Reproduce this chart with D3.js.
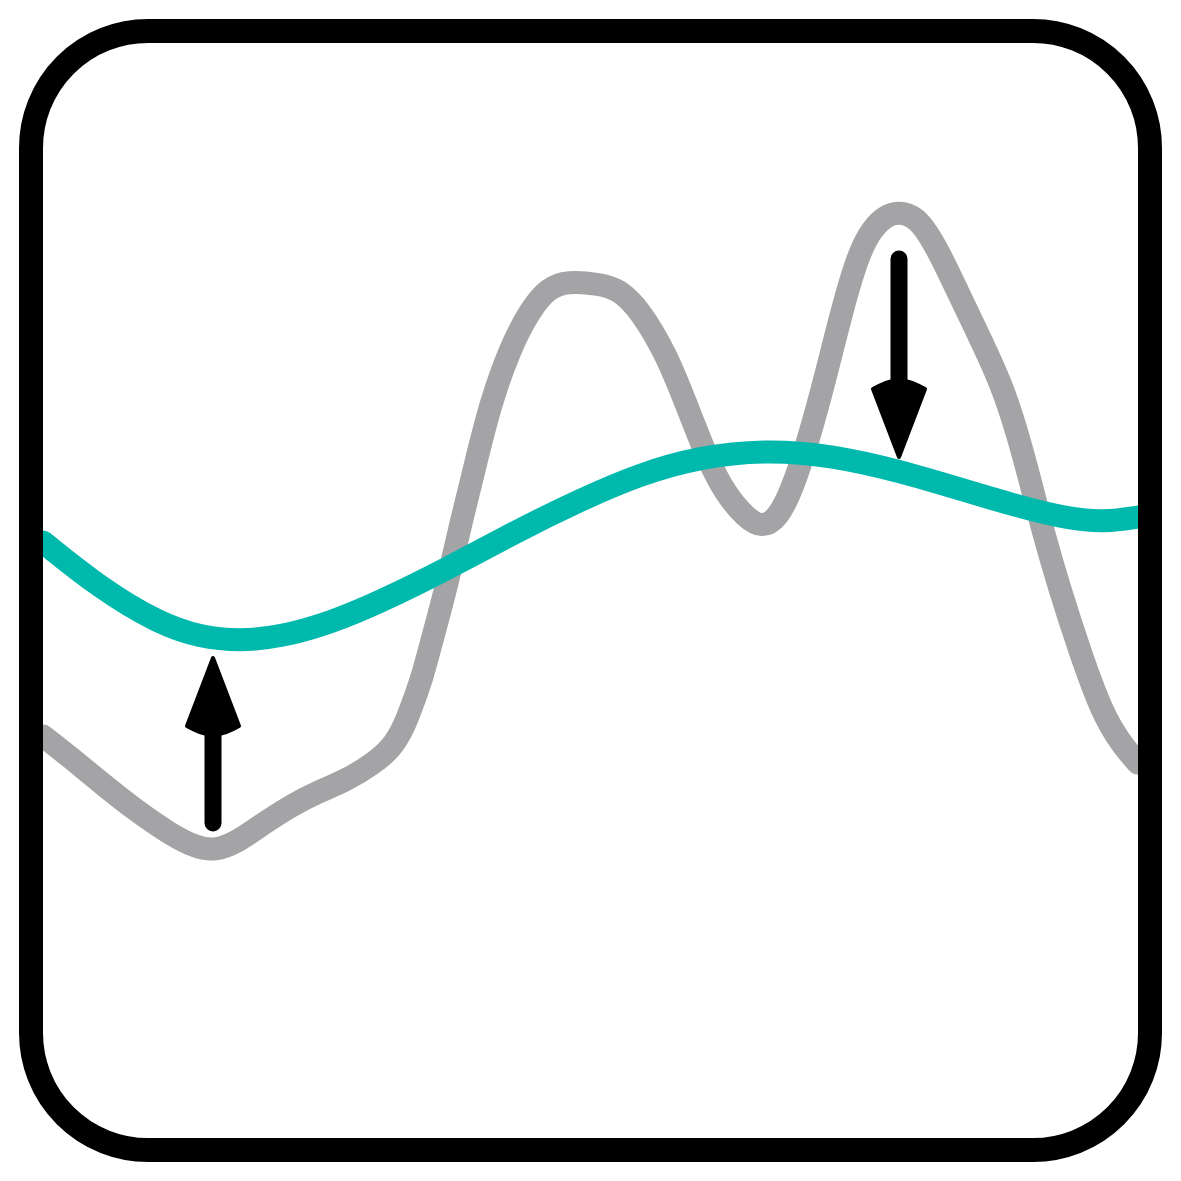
<!DOCTYPE html>
<html lang="en">
<head>
    <meta charset="UTF-8">
    <title>Level vs trend</title>
    <script src="https://d3js.org/d3.v7.min.js"></script>
    <style>
        html, body { margin: 0; padding: 0; background: #fff; }
        svg { display: block; }
        .actual { fill: none; stroke: #a4a4a6; stroke-width: 23px; stroke-linejoin: round; stroke-linecap: round; }
        .trend { fill: none; stroke: #00b9ad; stroke-width: 23px; stroke-linejoin: round; stroke-linecap: round; }
        .frame { fill: none; stroke: #000; stroke-width: 24px; }
        .shaft { stroke: #000; stroke-width: 17px; stroke-linecap: round; }
        .head { fill: #000; stroke: #000; stroke-width: 4px; stroke-linejoin: round; }
    </style>
</head>
<body>
<div id="chart"></div>
<script>
    // grey series (raw signal), x along the box, y upwards
    const actualX = [0, 27, 57, 92, 127, 152, 172, 194, 217, 247, 277, 302, 330, 349, 362, 371, 379, 389, 404, 419,
                     434, 447, 467, 487, 505, 524, 557, 577, 597, 624, 647, 665, 682, 702, 719, 735, 749, 767, 783, 799,
                     815, 829, 845, 860, 877, 895, 914, 937, 959, 975, 987, 1001, 1017, 1037, 1059, 1079, 1095];
    const actualY = [402, 381, 356, 328, 304, 291, 287, 296, 312, 332, 347, 357, 374, 390, 413, 438, 460, 498, 553, 620,
                     680, 733, 790, 828, 850, 857, 854, 848, 828, 783, 724, 678, 645, 621, 610, 620, 648, 703, 763, 828,
                     883, 910, 924, 926, 918, 888, 848, 800, 753, 703, 658, 603, 548, 486, 425, 393, 375];

    // teal series (smoothed trend)
    const trendX = [0, 57, 117, 157, 197, 237, 287, 337, 404, 470, 537, 597, 657, 722, 787, 857, 917, 977, 1027, 1062, 1095];
    const trendY = [596, 550, 514, 501, 497, 501, 515, 536, 569, 605, 638, 664, 681, 688, 683, 667, 649, 631, 619, 616, 621];

    // arrows pointing from the signal towards the trend
    const arrowX = [170, 856];
    const arrowFrom = [315, 879];
    const arrowTo = [480, 681];

    const W = 1181, H = 1181;

    const x = d3.scaleLinear().domain([0, 1095]).range([43, 1138]);
    const y = d3.scaleLinear().domain([0, 1096]).range([1138, 42]);

    const svg = d3.select("#chart").append("svg")
        .attr("width", W)
        .attr("height", H)
        .attr("viewBox", `0 0 ${W} ${H}`);

    svg.append("rect").attr("width", W).attr("height", H).attr("fill", "#fff");

    svg.append("clipPath").attr("id", "inner")
        .append("rect")
        .attr("x", 43).attr("y", 43)
        .attr("width", 1095).attr("height", 1095)
        .attr("rx", 105);

    const smoothLine = d3.line()
        .x(d => x(d[0]))
        .y(d => y(d[1]))
        .curve(d3.curveBasis);

    const plot = svg.append("g").attr("clip-path", "url(#inner)");

    plot.append("path")
        .attr("class", "actual")
        .attr("d", smoothLine(d3.zip(actualX, actualY)));

    plot.append("path")
        .attr("class", "trend")
        .attr("d", smoothLine(d3.zip(trendX, trendY)));

    // arrows
    const headLen = 68, headHalf = 26, notch = 7;
    arrowX.forEach((ax, i) => {
        const px = x(ax);
        const y0 = y(arrowFrom[i]);
        const y1 = y(arrowTo[i]);
        const dir = y1 < y0 ? -1 : 1;           // -1 up, 1 down
        const baseY = y1 - dir * headLen;
        const g = svg.append("g");
        g.append("line")
            .attr("class", "shaft")
            .attr("x1", px).attr("x2", px)
            .attr("y1", y0).attr("y2", baseY - dir * notch);
        g.append("path")
            .attr("class", "head")
            .attr("d", `M${px},${y1}
                        L${px + headHalf},${baseY}
                        Q${px + 6},${baseY - dir * notch * 1.6} ${px},${baseY - dir * notch}
                        Q${px - 6},${baseY - dir * notch * 1.6} ${px - headHalf},${baseY}
                        Z`);
    });

    // rounded frame
    svg.append("rect")
        .attr("class", "frame")
        .attr("x", 31).attr("y", 31)
        .attr("width", 1119).attr("height", 1119)
        .attr("rx", 117).attr("ry", 117);
</script>
</body>
</html>
